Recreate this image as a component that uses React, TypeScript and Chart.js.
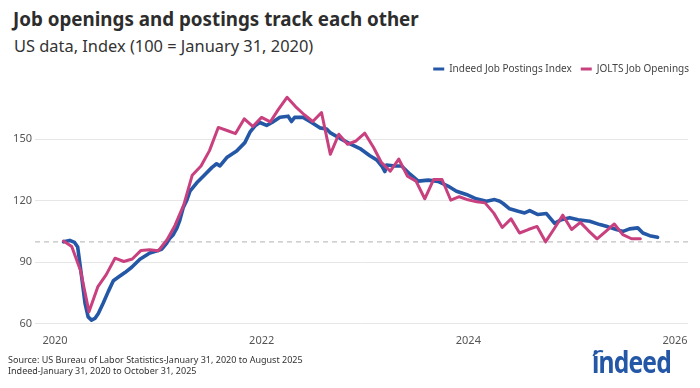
import React, { useEffect, useRef } from "react";
import { Chart, registerables } from "chart.js";

Chart.register(...registerables);

const TITLE = "Job openings and postings track each other";
const SUBTITLE = "US data, Index (100 = January 31, 2020)";
const SOURCE_LINES = [
  "Source: US Bureau of Labor Statistics-January 31, 2020 to August 2025",
  "Indeed-January 31, 2020 to October 31, 2025",
];
const SERIES_NAMES = ["Indeed Job Postings Index", "JOLTS Job Openings"];
const YEAR_TICKS = [2020, 2022, 2024, 2026];
const VALUE_TICKS = [60, 90, 120, 150];
const BASELINE = 100;

const indeedDates = [
  "2020-01-31", "2020-02-22", "2020-03-10", "2020-03-21", "2020-04-04", "2020-04-16",
  "2020-04-27", "2020-05-09", "2020-05-21", "2020-06-02", "2020-06-19", "2020-07-07",
  "2020-07-25", "2020-08-11", "2020-09-04", "2020-09-28", "2020-10-27", "2020-12-01",
  "2020-12-30", "2021-01-13", "2021-01-30", "2021-02-10", "2021-02-22", "2021-03-06",
  "2021-03-17", "2021-03-29", "2021-04-10", "2021-04-22", "2021-05-16", "2021-06-08",
  "2021-07-08", "2021-07-25", "2021-08-06", "2021-08-30", "2021-10-04", "2021-11-02",
  "2021-11-20", "2021-12-08", "2021-12-25", "2022-01-18", "2022-02-06", "2022-03-06",
  "2022-04-04", "2022-04-16", "2022-04-27", "2022-05-27", "2022-06-26", "2022-07-25",
  "2022-08-18", "2022-08-30", "2022-10-04", "2022-11-09", "2022-12-14", "2023-01-18",
  "2023-02-11", "2023-03-01", "2023-03-12", "2023-03-18", "2023-04-17", "2023-05-10",
  "2023-06-09", "2023-07-08", "2023-08-12", "2023-09-16", "2023-10-21", "2023-11-20",
  "2023-12-25", "2024-01-29", "2024-03-05", "2024-04-03", "2024-04-21", "2024-05-03",
  "2024-05-26", "2024-06-25", "2024-07-18", "2024-08-05", "2024-09-03", "2024-10-03",
  "2024-11-01", "2024-11-25", "2024-12-24", "2025-01-23", "2025-03-05", "2025-04-10",
  "2025-05-09", "2025-06-07", "2025-07-01", "2025-07-24", "2025-08-22", "2025-09-09",
  "2025-10-03", "2025-10-31",
];
const indeedValues = [
  100, 100.7, 99.7, 97.5, 83, 70,
  63.4, 61.8, 62.6, 65, 70, 75.7,
  81, 82.7, 85, 87.6, 91.5, 94.5,
  95.7, 96.5, 99.4, 101.8, 103.5, 106.5,
  110.5, 116.6, 120, 124.7, 128.8, 132,
  136.2, 138.1, 137, 141.1, 144.3, 148.4,
  153.5, 156.6, 158.2, 156.8, 158.2, 160.8,
  161.3, 158.7, 160.7, 160.7, 158.2, 155.6,
  155, 153.3, 150.5, 147.8, 145.5, 142,
  140, 137, 134.3, 137.5, 137, 137,
  133, 129.6, 130.1, 129.5, 127.2, 124.7,
  123.1, 121, 119.8, 120.6, 119.8, 118.7,
  116.1, 114.9, 114.1, 115.2, 113.3, 113.8,
  109, 110.8, 111.8, 110.8, 110, 108.4,
  107.3, 106, 105.1, 106.3, 106.8, 104.3,
  103, 102.2,
];

// JOLTS: month-end values, January 2020 through August 2025
const joltsStart = { year: 2020, month: 0 };
const joltsValues = [
  100.4, 97.7, 86, 65.9, 78, 84, 92, 90.4, 91.6, 95.8, 96.1, 95.6,
  101, 108, 118, 132.5, 137, 144.5, 155.8, 154.3, 152.8, 160, 156.3, 160.7,
  158.5, 164.5, 170.5, 166, 162, 158.7, 163.1, 142.7, 152.5, 147.6, 149.2, 153,
  146, 138.6, 134.5, 140.4, 132, 129.6, 121, 130.4, 130.4, 120.3, 122, 120.5,
  119.5, 119, 114, 107, 111.2, 104.3, 106, 107.5, 100, 106.5, 113, 106,
  109.5, 105.5, 101.4, 105, 108.7, 103.5, 101.5, 101.5,
];

const X_MIN = 2019.806;
const X_MAX = 2026.126;
const Y_MIN = 60;
const Y_MAX = 177;

const BLUE = "#2557a7";
const PINK = "#c9407f";
const FONT = "'Noto Sans', 'Open Sans', sans-serif";

const EPOCH = Date.UTC(2020, 0, 1);
const YEAR_MS = 365.25 * 864e5;
const toYear = (ms: number) => 2020 + (ms - EPOCH) / YEAR_MS;
const dateToYear = (s: string) => {
  const [y, m, d] = s.split("-").map(Number);
  return toYear(Date.UTC(y, m - 1, d));
};

const legendShift = {
  id: "legendShift",
  afterLayout(chart: any) {
    if (chart.legend) {
      chart.legend.left += 10;
      chart.legend.right += 10;
    }
  },
};

export default function App() {
  const canvasRef = useRef<HTMLCanvasElement | null>(null);

  useEffect(() => {
    if (!canvasRef.current) return;
    const indeedData = indeedDates.map((d, i) => ({ x: dateToYear(d), y: indeedValues[i] }));
    const joltsData = joltsValues.map((v, i) => ({
      x: toYear(Date.UTC(joltsStart.year, joltsStart.month + i + 1, 0)),
      y: v,
    }));
    const chart = new Chart(canvasRef.current, {
      type: "line",
      data: {
        datasets: [
          {
            label: SERIES_NAMES[0],
            data: indeedData,
            borderColor: BLUE,
            backgroundColor: BLUE,
            borderWidth: 3.6,
            pointRadius: 0,
            tension: 0,
            borderJoinStyle: "round",
            borderCapStyle: "round",
            order: 2,
          },
          {
            label: SERIES_NAMES[1],
            data: joltsData,
            borderColor: PINK,
            backgroundColor: PINK,
            borderWidth: 3,
            pointRadius: 0,
            tension: 0,
            borderJoinStyle: "round",
            borderCapStyle: "round",
            order: 1,
          },
          {
            label: "baseline",
            data: [
              { x: X_MIN, y: BASELINE },
              { x: X_MAX, y: BASELINE },
            ],
            borderColor: "#c2c2c2",
            borderWidth: 1.3,
            borderDash: [5, 4],
            pointRadius: 0,
            order: 3,
          },
        ],
      },
      plugins: [legendShift],
      options: {
        animation: false,
        responsive: true,
        maintainAspectRatio: false,
        layout: { padding: { top: 0, right: 12, bottom: 0, left: 0 } },
        plugins: {
          tooltip: { enabled: false },
          title: { display: false },
          legend: {
            display: true,
            position: "top",
            align: "end",
            labels: {
              boxWidth: 11,
              boxHeight: 3,
              padding: 9,
              color: "#444",
              font: { family: FONT, size: 10 },
              generateLabels: () =>
                SERIES_NAMES.map((name, i) => ({
                  text: name,
                  fillStyle: i === 0 ? BLUE : PINK,
                  strokeStyle: i === 0 ? BLUE : PINK,
                  lineWidth: 0,
                  hidden: false,
                  datasetIndex: i,
                  fontColor: "#444",
                })),
            },
          },
        },
        scales: {
          x: {
            type: "linear",
            min: X_MIN,
            max: X_MAX,
            afterBuildTicks: (scale: any) => {
              scale.ticks = YEAR_TICKS.map((v) => ({ value: v }));
            },
            ticks: {
              autoSkip: false,
              maxRotation: 0,
              padding: 10,
              color: "#555",
              font: { family: FONT, size: 11 },
              callback: (v: any) => String(v),
            },
            grid: { display: false, drawTicks: false },
            border: { display: false },
          },
          y: {
            type: "linear",
            min: Y_MIN,
            max: Y_MAX,
            afterBuildTicks: (scale: any) => {
              scale.ticks = VALUE_TICKS.map((v) => ({ value: v }));
            },
            afterFit: (scale: any) => {
              scale.width = 35;
            },
            ticks: {
              padding: 3,
              color: "#555",
              font: { family: FONT, size: 11 },
              callback: (v: any) => String(v),
            },
            grid: { color: "#e6e6e6", lineWidth: 1, drawTicks: false },
            border: { display: false },
          },
        },
      },
    } as any);
    return () => chart.destroy();
  }, []);

  return (
    <div
      style={{
        position: "fixed",
        left: 0,
        top: 0,
        width: 700,
        height: 388,
        background: "#fff",
        overflow: "hidden",
        fontFamily: FONT,
      }}
    >
      <div
        style={{
          position: "absolute",
          left: 13,
          top: 7,
          fontSize: 18.8,
          fontWeight: 700,
          lineHeight: "24px",
          color: "#2d2d2d",
          whiteSpace: "nowrap",
        }}
      >
        {TITLE}
      </div>
      <div
        style={{
          position: "absolute",
          left: 14,
          top: 36,
          fontSize: 16.4,
          lineHeight: "19px",
          color: "#333",
          whiteSpace: "nowrap",
        }}
      >
        {SUBTITLE}
      </div>
      <div style={{ position: "absolute", left: 0, top: 55, width: 700, height: 302 }}>
        <canvas ref={canvasRef} />
      </div>
      <div
        style={{
          position: "absolute",
          left: 8,
          top: 355,
          fontSize: 9,
          lineHeight: "10.5px",
          color: "#333",
          whiteSpace: "nowrap",
        }}
      >
        {SOURCE_LINES.map((l, i) => (
          <div key={i}>{l}</div>
        ))}
      </div>
      <div
        style={{
          position: "absolute",
          left: 592,
          top: 344,
          fontSize: 30,
          fontWeight: 700,
          letterSpacing: -1,
          lineHeight: "36px",
          color: BLUE,
          whiteSpace: "nowrap",
          transform: "scaleX(0.82)",
          transformOrigin: "0 0",
        }}
      >
        indeed
      </div>
      <div
        style={{
          position: "absolute",
          left: 592,
          top: 350,
          width: 13,
          height: 13,
          borderRadius: "50%",
          border: "2.5px solid transparent",
          borderTopColor: BLUE,
          transform: "rotate(-25deg)",
        }}
      />
    </div>
  );
}
